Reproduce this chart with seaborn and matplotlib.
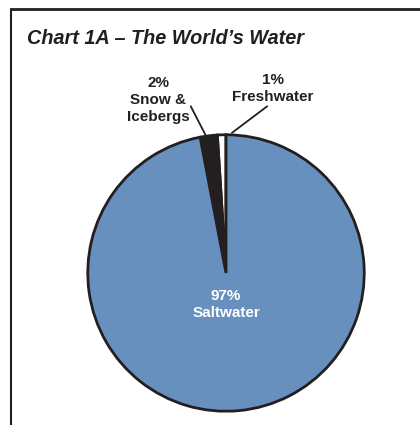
import matplotlib
matplotlib.use("Agg")
import matplotlib.pyplot as plt
import seaborn as sns
from matplotlib.lines import Line2D

sns.set_theme(style="white")
plt.rcParams['font.family'] = ['Liberation Sans Narrow', 'Liberation Sans', 'DejaVu Sans']

labels = ["Freshwater", "Snow &\nIcebergs", "Saltwater"]
shares = [1, 2, 97]
colors = ["#ffffff", "#231f20", "#6890be"]
title = "Chart 1A – The World’s Water"

fig = plt.figure(figsize=(4.2, 4.25), dpi=100)

# frame lines (top and left only)
fig.add_artist(Line2D([11 / 420, 1], [1 - 9 / 425, 1 - 9 / 425], color="#231f20", lw=2))
fig.add_artist(Line2D([11 / 420, 11 / 420], [0, 1 - 9 / 425], color="#231f20", lw=1.5))

fig.text(27 / 420, 1 - 38 / 425, title, fontsize=14.3, fontweight="bold",
         fontstyle="italic", color="#231f20", va="center", ha="left")

cx, cy, r = 226, 273, 141
ax = fig.add_axes([(cx - r) / 420, (425 - cy - r) / 425, 2 * r / 420, 2 * r / 425])
ax.pie(shares, colors=colors, startangle=90, counterclock=True, radius=1,
       wedgeprops=dict(edgecolor="#231f20", linewidth=2))
ax.set_xlim(-1.02, 1.02)
ax.set_ylim(-1.02, 1.02)
ax.axis("off")

txt = dict(fontsize=11, fontweight="bold", ha="center", va="center", linespacing=1.25)
ax.text(0, -0.23, f"{shares[2]}%\n{labels[2]}", color="white", **txt)
ax.text(-0.49, 1.25, f"{shares[1]}%\n{labels[1]}", color="#231f20", **txt)
ax.text(0.34, 1.335, f"{shares[0]}%\n{labels[0]}", color="#231f20", **txt)

# leader lines
line = dict(arrowstyle="-", color="#231f20", lw=1.3, shrinkA=0, shrinkB=0)
ax.annotate("", xy=(-0.149, 1.0), xytext=(-0.255, 1.206), annotation_clip=False, arrowprops=line)
ax.annotate("", xy=(0.043, 1.014), xytext=(0.298, 1.206), annotation_clip=False, arrowprops=line)

fig.savefig("out.png", dpi=100)
